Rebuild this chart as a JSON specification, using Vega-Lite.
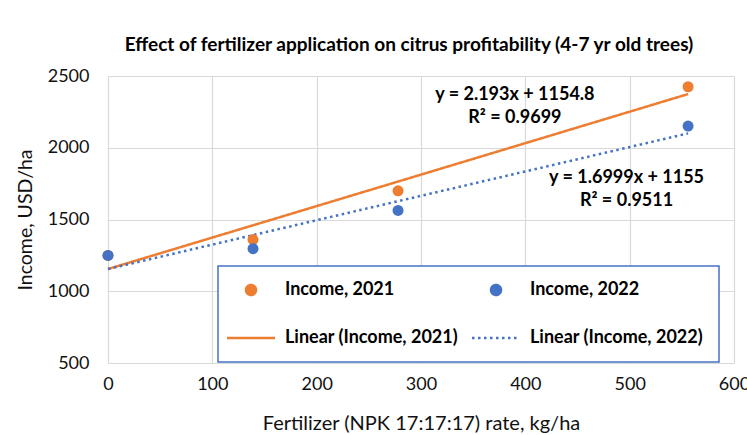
{
  "$schema": "https://vega.github.io/schema/vega-lite/v6.json",
  "width": 626,
  "height": 287,
  "autosize": {"type": "none"},
  "padding": {"left": 108, "top": 76, "right": 13, "bottom": 72},
  "background": "white",
  "config": {
    "font": "Lato",
    "view": {"stroke": null},
    "legend": {"strokeWidth": 1.5},
    "axis": {
      "gridColor": "#d9d9d9",
      "gridWidth": 1.2,
      "domain": false,
      "ticks": false,
      "labelFont": "Lato",
      "labelFontSize": 18,
      "labelColor": "#111111",
      "titleFont": "Lato",
      "titleFontWeight": "normal",
      "titleColor": "#111111",
      "format": "d"
    }
  },
  "title": {
    "text": "Effect of fertilizer application on citrus profitability (4-7 yr old trees)",
    "font": "Lato",
    "fontSize": 19,
    "fontWeight": "bold",
    "color": "#000000",
    "anchor": "middle",
    "dx": -12,
    "offset": 12
  },
  "data": {
    "values": [
      {"kind": "trend", "s": "Linear (Income, 2021)", "x": 0, "y": 1154.8},
      {"kind": "trend", "s": "Linear (Income, 2021)", "x": 556, "y": 2374.1},
      {"kind": "trend", "s": "Linear (Income, 2022)", "x": 0, "y": 1155},
      {"kind": "trend", "s": "Linear (Income, 2022)", "x": 556, "y": 2100.1},
      {"kind": "pt", "s": "Income, 2021", "x": 0, "y": 1250},
      {"kind": "pt", "s": "Income, 2021", "x": 139, "y": 1360},
      {"kind": "pt", "s": "Income, 2021", "x": 278, "y": 1700},
      {"kind": "pt", "s": "Income, 2021", "x": 556, "y": 2425},
      {"kind": "pt", "s": "Income, 2022", "x": 0, "y": 1250},
      {"kind": "pt", "s": "Income, 2022", "x": 139, "y": 1297},
      {"kind": "pt", "s": "Income, 2022", "x": 278, "y": 1563},
      {"kind": "pt", "s": "Income, 2022", "x": 556, "y": 2151},
      {"kind": "ann", "label": "y = 2.193x + 1154.8", "x": 390, "y": 2368},
      {"kind": "ann", "label": "R² = 0.9699", "x": 390, "y": 2207},
      {"kind": "ann", "label": "y = 1.6999x + 1155", "x": 497, "y": 1789},
      {"kind": "ann", "label": "R² = 0.9511", "x": 497, "y": 1630}
    ]
  },
  "encoding": {
    "x": {
      "field": "x",
      "type": "quantitative",
      "scale": {"domain": [0, 600], "nice": false, "zero": false},
      "axis": {
        "title": "Fertilizer (NPK 17:17:17) rate, kg/ha",
        "titleFontSize": 20,
        "values": [0, 100, 200, 300, 400, 500, 600],
        "labelFlush": false,
        "labelPadding": 12,
        "titlePadding": 20,
        "labelOverlap": false
      }
    },
    "y": {
      "field": "y",
      "type": "quantitative",
      "scale": {"domain": [500, 2500], "nice": false, "zero": false},
      "axis": {
        "title": "Income, USD/ha",
        "titleFontSize": 19.5,
        "values": [500, 1000, 1500, 2000, 2500],
        "labelPadding": 19,
        "titlePadding": 12,
        "labelFlush": false,
        "labelOverlap": false
      }
    }
  },
  "layer": [
    {
      "transform": [{"filter": "datum.kind === 'trend'"}],
      "mark": {"type": "line", "strokeWidth": 2.5, "strokeCap": "butt"},
      "encoding": {
        "color": {
          "field": "s",
          "type": "nominal",
          "scale": {
            "domain": ["Income, 2021", "Linear (Income, 2021)", "Income, 2022", "Linear (Income, 2022)"],
            "range": ["#ED7D31", "#ED7D31", "#4472C4", "#4472C4"]
          },
          "legend": {
            "title": null,
            "orient": "none",
            "legendX": 110,
            "legendY": 190,
            "columns": 2,
            "columnPadding": 8,
            "rowPadding": 29,
            "padding": 15,
            "fillColor": "white",
            "strokeColor": "#4472C4",
            "cornerRadius": 0,
            "symbolOffset": 9,
            "symbolSize": 100,
            "symbolStrokeWidth": 2.5,
            "labelOffset": 25,
            "labelFont": "Lato",
            "labelFontSize": 18,
            "labelFontWeight": "bold",
            "labelColor": "#000000",
            "labelLimit": 300
          }
        },
        "strokeDash": {
          "field": "s",
          "type": "nominal",
          "scale": {
            "domain": ["Income, 2021", "Linear (Income, 2021)", "Income, 2022", "Linear (Income, 2022)"],
            "range": [[1, 0], [1, 0], [1, 0], [2.5, 3.5]]
          },
          "legend": {"title": null}
        }
      }
    },
    {
      "transform": [{"filter": "datum.kind === 'pt'"}],
      "mark": {"type": "point", "filled": true, "size": 121, "opacity": 1},
      "encoding": {
        "color": {"field": "s", "type": "nominal"},
        "shape": {
          "field": "s",
          "type": "nominal",
          "scale": {
            "domain": ["Income, 2021", "Linear (Income, 2021)", "Income, 2022", "Linear (Income, 2022)"],
            "range": ["circle", "M-4.8,0L4.8,0", "circle", "M-4.8,0L4.8,0"]
          },
          "legend": {"title": null}
        }
      }
    },
    {
      "transform": [{"filter": "datum.kind === 'ann'"}],
      "mark": {"type": "text", "font": "Lato", "fontSize": 18, "fontWeight": "bold", "color": "#000000", "align": "center", "baseline": "middle"},
      "encoding": {
        "text": {"field": "label", "type": "nominal"}
      }
    }
  ]
}
